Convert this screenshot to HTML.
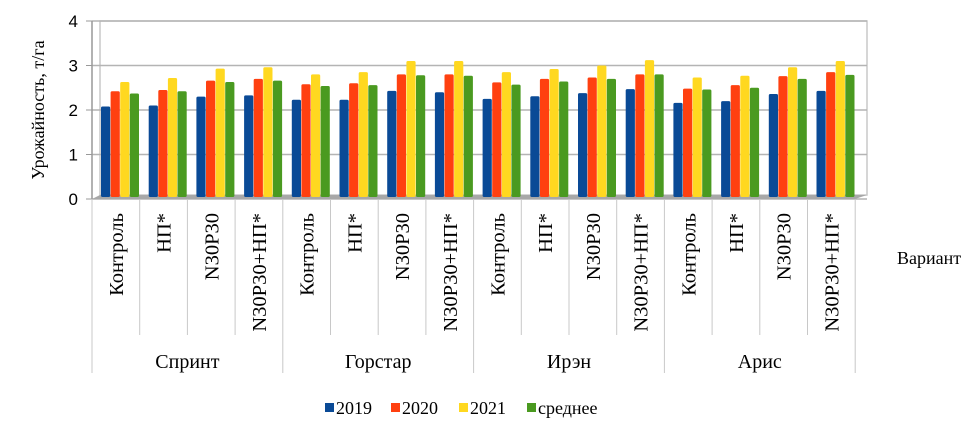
<!DOCTYPE html>
<html><head><meta charset="utf-8"><style>
body{margin:0;background:#fff;width:969px;height:434px;overflow:hidden}
</style></head><body>
<svg id="c" width="969" height="434"></svg>
<script>
const groups=["Спринт","Горстар","Ирэн","Арис"];
const variants=["Контроль","НП*","N30P30","N30P30+НП*"];
const seriesNames=["2019","2020","2021","среднее"];
const s2019=[2.08,2.1,2.3,2.33, 2.23,2.23,2.43,2.4, 2.25,2.31,2.38,2.47, 2.16,2.2,2.36,2.43];
const s2020=[2.42,2.45,2.66,2.7, 2.58,2.6,2.8,2.8, 2.62,2.7,2.73,2.8, 2.48,2.56,2.76,2.85];
const s2021=[2.63,2.72,2.93,2.96, 2.8,2.85,3.1,3.1, 2.85,2.92,3.0,3.12, 2.73,2.77,2.96,3.1];
const sAvg=[2.37,2.42,2.63,2.66, 2.54,2.56,2.78,2.77, 2.57,2.64,2.7,2.8, 2.46,2.5,2.7,2.79];
const yTicks=[0,1,2,3,4];
const colors=["#0a4a96","#ff4010","#ffd820","#4a9a20"];
const SERIF='"Liberation Serif", "DejaVu Serif", serif';
const SANS='"Liberation Sans", sans-serif';
const svg=document.getElementById('c');const NS="http://www.w3.org/2000/svg";
function el(t,a,p){const e=document.createElementNS(NS,t);for(const k in a)e.setAttribute(k,a[k]);(p||svg).appendChild(e);return e;}
const x0=92,cw=47.7,y0=199,yTop=21;
const Y=v=>y0-(v/4)*(y0-yTop);
const X=i=>x0+i*cw;
let g=el('rect',{x:100,y:yTop,width:767,height:y0-yTop-4,fill:'none',stroke:'#c8c8c8','stroke-width':1.5});

yTicks.forEach(t=>{
 const l=el('line',{x1:92,x2:867,y1:Y(t),y2:Y(t),stroke:'#b4b4b4','stroke-width':1.5});
 
 const tk=el('line',{x1:86,x2:92,y1:Y(t),y2:Y(t),stroke:'#999'});
 
 const tx=el('text',{x:78,y:Y(t)+6,'text-anchor':'end','font-size':17,'font-family':SANS});tx.textContent=t;
 
});
const ax=el('line',{x1:92,x2:92,y1:yTop,y2:y0,stroke:'#999','stroke-width':1.5});

const fl=el('polygon',{points:`92,${y0} 855,${y0} 867,${y0-4} 100,${y0-4}`,fill:'#a8a8a8'});

const series=[s2019,s2020,s2021,sAvg];
series.forEach((s,si)=>{s.forEach((v,i)=>{
 const bx=X(i)+9+si*9.6;
 const r=el('rect',{x:bx,y:Y(v),width:9.2,height:y0-2-Y(v),fill:colors[si],rx:1.5});
 
 
});});
for(let i=0;i<=16;i++){
 const big=i%4===0;
 const l=el('line',{x1:X(i),x2:X(i),y1:y0+1,y2:big?373:335,stroke:'#c8c8c8'});
 
}
for(let i=0;i<16;i++){
 const cx=X(i)+cw/2+7, t=el('text',{x:0,y:0,'text-anchor':'end','font-size':20.5,'font-family':SERIF,transform:`translate(${cx},213) rotate(-90)`});
 t.textContent=variants[i%4];
 
}
groups.forEach((gname,gi)=>{
 const t=el('text',{x:X(gi*4)+2*cw,y:368,'text-anchor':'middle','font-size':20,'font-family':SERIF});t.textContent=gname;
 
});
const yt=el('text',{x:0,y:0,'text-anchor':'middle','font-size':18,'font-family':SERIF,transform:'translate(44,110) rotate(-90)'});yt.textContent="Урожайность, т/га";

const xt=el('text',{x:897,y:264,'font-size':18,'font-family':SERIF});xt.textContent="Вариант";

const lx=[325,391,459,527];
seriesNames.forEach((n,si)=>{
 const r=el('rect',{x:lx[si],y:403,width:9,height:9,fill:colors[si]});
 
 const t=el('text',{x:lx[si]+11,y:414,'font-size':18,'font-family':SERIF});t.textContent=n;
 
});
</script>
</body></html>
